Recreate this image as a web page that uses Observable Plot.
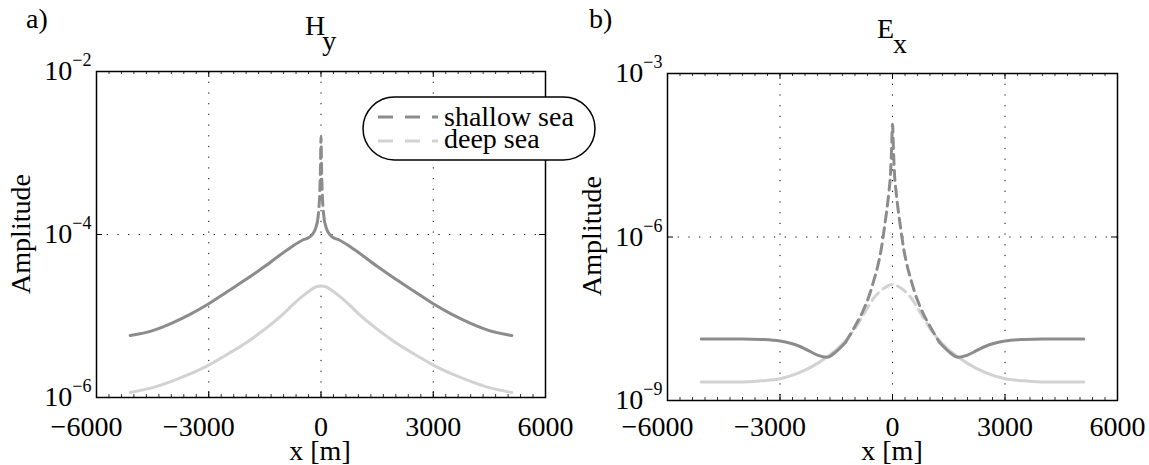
<!DOCTYPE html>
<html><head><meta charset="utf-8">
<script src="https://cdn.jsdelivr.net/npm/d3@7"></script>
<script src="https://cdn.jsdelivr.net/npm/@observablehq/plot@0.6"></script>
<style>
html,body{margin:0;padding:0;background:#fff;}
#root{position:relative;width:1149px;height:465px;overflow:hidden;font-family:"Liberation Serif","DejaVu Serif",serif;}
#root svg{position:absolute;top:0;}
</style></head>
<body><div id="root"></div>
<script>
// ---------- data ----------
const seriesNames = ["shallow sea", "deep sea"];
const seriesColors = ["#8c8c8c", "#d2d2d2"];

// Panel a) H_y
const xHyShallow = [-5100,-4500,-4000,-3500,-3000,-2500,-2000,-1500,-1000,-750,-500,-300,-200,-150,-100,-60,-30,-15,0,15,30,60,100,150,200,300,500,750,1000,1500,2000,2500,3000,3500,4000,4500,5100];
const hyShallow = [5.75e-6,6.61e-6,8.13e-6,1.047e-5,1.413e-5,1.995e-5,2.82e-5,4.07e-5,6.03e-5,7.24e-5,8.51e-5,9.33e-5,1.05e-4,1.17e-4,1.41e-4,2.0e-4,3.55e-4,6.3e-4,1.58e-3,6.3e-4,3.55e-4,2.0e-4,1.41e-4,1.17e-4,1.05e-4,9.33e-5,8.51e-5,7.24e-5,6.03e-5,4.07e-5,2.82e-5,1.995e-5,1.413e-5,1.047e-5,8.13e-6,6.61e-6,5.75e-6];
const xHyDeep = [-5100,-4500,-4000,-3500,-3000,-2500,-2000,-1500,-1000,-750,-500,-300,-150,0,150,300,500,750,1000,1500,2000,2500,3000,3500,4000,4500,5100];
const hyDeep = [1.15e-6,1.32e-6,1.58e-6,1.95e-6,2.5e-6,3.4e-6,4.7e-6,6.9e-6,1.07e-5,1.38e-5,1.74e-5,2.04e-5,2.26e-5,2.34e-5,2.26e-5,2.04e-5,1.74e-5,1.38e-5,1.07e-5,6.9e-6,4.7e-6,3.4e-6,2.5e-6,1.95e-6,1.58e-6,1.32e-6,1.15e-6];

// Panel b) E_x
const xExShallow = [-5100,-4000,-3500,-3000,-2500,-2250,-2000,-1750,-1500,-1250,-1000,-800,-600,-500,-400,-300,-200,-150,-100,-50,-25,0,25,50,100,150,200,300,400,500,600,800,1000,1250,1500,1750,2000,2250,2500,3000,3500,4000,5100];
const exShallow = [1.35e-8,1.35e-8,1.32e-8,1.23e-8,1.0e-8,8.3e-9,6.8e-9,6.2e-9,7.9e-9,1.17e-8,2.3e-8,4.2e-8,9.3e-8,1.58e-7,2.8e-7,6.0e-7,1.78e-6,3.2e-6,6.3e-6,1.58e-5,4.0e-5,1.17e-4,4.0e-5,1.58e-5,6.3e-6,3.2e-6,1.78e-6,6.0e-7,2.8e-7,1.58e-7,9.3e-8,4.2e-8,2.3e-8,1.17e-8,7.9e-9,6.2e-9,6.8e-9,8.3e-9,1.0e-8,1.23e-8,1.32e-8,1.35e-8,1.35e-8];
const xExDeep = [-5100,-4000,-3500,-3000,-2500,-2000,-1750,-1500,-1250,-1000,-750,-500,-250,0,250,500,750,1000,1250,1500,1750,2000,2500,3000,3500,4000,5100];
const exDeep = [2.19e-9,2.19e-9,2.3e-9,2.5e-9,3.2e-9,4.8e-9,6.3e-9,8.5e-9,1.26e-8,2.1e-8,4.0e-8,7.6e-8,1.12e-7,1.35e-7,1.12e-7,7.6e-8,4.0e-8,2.1e-8,1.26e-8,8.5e-9,6.3e-9,4.8e-9,3.2e-9,2.5e-9,2.3e-9,2.19e-9,2.19e-9];

// axes
const xTicks = [-6000, -3000, 0, 3000, 6000];
const xGrid = [-3000, 0, 3000];
const hyTicks = [1e-6, 1e-4, 1e-2];
const hyGrid = [1e-4];
const exTicks = [1e-9, 1e-6, 1e-3];
const exGrid = [1e-6];
const xMinor = d3.range(-18, 19).map(i => i * 1000 / 3);

// ---------- helpers ----------
const FONT = "'Liberation Serif', 'DejaVu Serif', serif";
const NS = "http://www.w3.org/2000/svg";
const MINUS = "\u2212";
const fmtX = d => d < 0 ? MINUS + Math.abs(d) : String(d);
const fmtY = d => { const e = Math.round(Math.log10(d)); return "10^" + (e < 0 ? MINUS + Math.abs(e) : e); };

function rowsOf(xs, ys, name, cut) {
  const rows = xs.map((x, i) => ({x, y: ys[i], name}));
  if (cut == null) return {solid: rows.map(r => ({...r, part: "all"})), dashed: []};
  const solid = rows.filter(r => Math.abs(r.x) >= cut).map(r => ({...r, part: r.x < 0 ? "L" : "R"}));
  const dashed = rows.filter(r => Math.abs(r.x) <= cut);
  return {solid, dashed};
}

function panel({series, yDomain, yTicks, yGrid, width, ml, mr, mt, mb, xPad}) {
  const H = 465, innerW = width - ml - mr, innerH = H - mt - mb;
  const marks = [
    Plot.gridX(xGrid, {stroke: "black", strokeOpacity: 1, strokeWidth: 1, strokeDasharray: "1.2,9.5"}),
    Plot.gridY(yGrid, {stroke: "black", strokeOpacity: 1, strokeWidth: 1, strokeDasharray: "1.2,9.5"}),
    Plot.tickX(xMinor, {x: d => d, insetTop: innerH - 3, stroke: "black", strokeWidth: 0.8}),
    Plot.tickX(xMinor, {x: d => d, insetBottom: innerH - 3, stroke: "black", strokeWidth: 0.8}),
    Plot.tickX(xGrid, {x: d => d, insetTop: innerH - 6, stroke: "black"}),
    Plot.tickX(xGrid, {x: d => d, insetBottom: innerH - 6, stroke: "black"}),
    Plot.tickY(yTicks, {y: d => d, insetRight: innerW - 6, stroke: "black"}),
    Plot.tickY(yTicks, {y: d => d, insetLeft: innerW - 6, stroke: "black"})
  ];
  for (const s of [...series].reverse()) {
    const {solid, dashed} = rowsOf(s.xs, s.ys, s.name, s.cut);
    marks.push(Plot.line(solid, {x: "x", y: "y", z: "part", stroke: s.color, strokeWidth: 3, curve: "monotone-x"}));
    if (dashed.length) marks.push(Plot.line(dashed, {x: "x", y: "y", stroke: s.color, strokeWidth: 3, curve: "monotone-x", strokeDasharray: "10,6"}));
  }
  marks.push(
    Plot.frame({stroke: "black", strokeWidth: 1.5}),
    Plot.axisX(xTicks.filter(d => d < 0), {tickSize: 0, tickPadding: xPad, tickFormat: fmtX, dx: -10, label: null}),
    Plot.axisX(xTicks.filter(d => d >= 0), {tickSize: 0, tickPadding: xPad, tickFormat: fmtX, label: null}),
    Plot.axisY(yTicks, {tickSize: 0, tickPadding: 5, tickFormat: fmtY, label: null})
  );
  const svg = Plot.plot({
    width, height: H, marginLeft: ml, marginRight: mr, marginTop: mt, marginBottom: mb,
    style: {background: "transparent", fontFamily: FONT, fontSize: "28px", color: "black", overflow: "visible"},
    x: {domain: [-6000, 6000]},
    y: {type: "log", domain: yDomain},
    marks
  });
  svg.querySelectorAll("text").forEach(t => {
    const m = /^10\^(.+)$/.exec(t.textContent);
    if (!m) return;
    t.textContent = "";
    const a = document.createElementNS(NS, "tspan"); a.textContent = "10"; t.appendChild(a);
    const b = document.createElementNS(NS, "tspan"); b.setAttribute("dy", "-14"); b.setAttribute("font-size", "18"); b.textContent = m[1]; t.appendChild(b);
  });
  return svg;
}

const root = document.getElementById("root");

const p1 = panel({
  series: [
    {xs: xHyShallow, ys: hyShallow, name: seriesNames[0], color: seriesColors[0], cut: 100},
    {xs: xHyDeep, ys: hyDeep, name: seriesNames[1], color: seriesColors[1], cut: null}
  ],
  yDomain: [1e-6, 1e-2], yTicks: hyTicks, yGrid: hyGrid,
  width: 575, ml: 96, mr: 30, mt: 71, mb: 68, xPad: 19
});
p1.style.left = "0px";
root.appendChild(p1);

const p2 = panel({
  series: [
    {xs: xExShallow, ys: exShallow, name: seriesNames[0], color: seriesColors[0], cut: 1250},
    {xs: xExDeep, ys: exDeep, name: seriesNames[1], color: seriesColors[1], cut: 1250}
  ],
  yDomain: [1e-9, 1e-3], yTicks: exTicks, yGrid: exGrid,
  width: 574, ml: 92, mr: 32, mt: 73, mb: 65, xPad: 16
});
p2.style.left = "575px";
root.appendChild(p2);

// ---------- overlay: titles, axis labels, legend ----------
const ov = document.createElementNS(NS, "svg");
ov.setAttribute("width", 1149); ov.setAttribute("height", 465);
ov.style.left = "0px"; ov.style.pointerEvents = "none";
ov.style.fontFamily = FONT;
ov.setAttribute("font-size", "28");
ov.innerHTML = `
  <text x="26" y="28">a)</text>
  <text x="589" y="28">b)</text>
  <text x="305" y="35">H<tspan dx="-3" dy="15">y</tspan></text>
  <text x="877" y="38">E<tspan dx="-1" dy="15">x</tspan></text>
  <text transform="translate(30,234) rotate(-90)" text-anchor="middle">Amplitude</text>
  <text transform="translate(601,236) rotate(-90)" text-anchor="middle">Amplitude</text>
  <text x="320" y="460" text-anchor="middle">x [m]</text>
  <text x="892" y="460" text-anchor="middle">x [m]</text>
  <rect x="363" y="97" width="232" height="63" rx="31.5" ry="31.5" fill="white" stroke="black" stroke-width="1.5"/>
  <line x1="378" x2="438" y1="117" y2="117" stroke="${seriesColors[0]}" stroke-width="3" stroke-dasharray="15,12"/>
  <line x1="378" x2="438" y1="141" y2="141" stroke="${seriesColors[1]}" stroke-width="3" stroke-dasharray="15,12"/>
  <text x="444" y="126">${seriesNames[0]}</text>
  <text x="444" y="148">${seriesNames[1]}</text>
`;
root.appendChild(ov);
</script>
</body></html>
